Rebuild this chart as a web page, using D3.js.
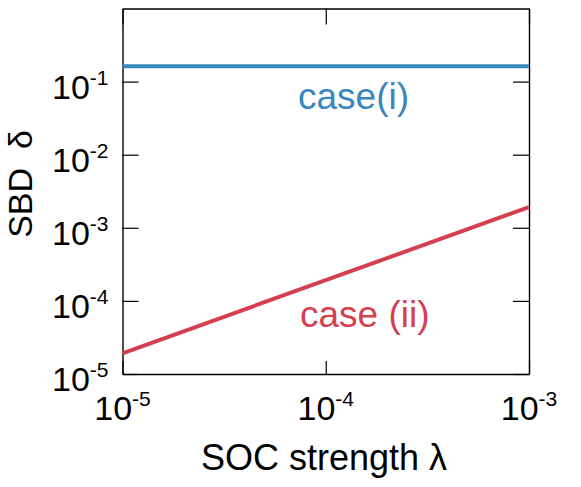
<!DOCTYPE html>
<html>
<head>
<meta charset="utf-8">
<script src="https://cdn.jsdelivr.net/npm/d3@7"></script>
<style>
  body { margin: 0; background: #fff; }
  text { font-family: "Liberation Sans", Arial, sans-serif; }
</style>
</head>
<body>
<div id="chart"></div>
<script>
// data
let lambdaVals = [1e-5, 1e-4, 1e-3];
let caseI = [0.162, 0.162, 0.162];
let caseII = [1.92e-5, 1.92e-4, 1.92e-3];
let xTickExps = [-5, -4, -3];
let yTickExps = [-5, -4, -3, -2, -1];

let margin = {top: 8.5, right: 52, bottom: 113, left: 122.5},
  width = 581 - margin.left - margin.right,
  height = 487 - margin.top - margin.bottom;

let svg = d3.select("#chart").append("svg")
  .attr("width", 581)
  .attr("height", 487)
  .append("g")
  .attr("transform", "translate(" + margin.left + "," + margin.top + ")");

let x = d3.scaleLog()
  .domain([1e-5, 1e-3])
  .range([0, width]);

let y = d3.scaleLog()
  .domain([1e-5, 1e0])
  .range([height, 0]);

let xTicks = xTickExps.map(function (e) { return Math.pow(10, e); });
let yTicks = yTickExps.map(function (e) { return Math.pow(10, e); });

// inward ticks on all four sides
function frameAxis(axis, tx, ty) {
  svg.append("g")
    .attr("transform", "translate(" + tx + "," + ty + ")")
    .call(axis)
    .call(function (g) {
      g.selectAll("path").attr("stroke", "#000").attr("stroke-width", 1.4);
      g.selectAll("line").attr("stroke", "#000").attr("stroke-width", 1.2);
      g.selectAll("text").remove();
    });
}
frameAxis(d3.axisBottom(x).tickValues(xTicks).tickSize(-13).tickSizeOuter(0), 0, height);
frameAxis(d3.axisTop(x).tickValues(xTicks).tickSize(-16).tickSizeOuter(0), 0, 0);
frameAxis(d3.axisLeft(y).tickValues(yTicks).tickSize(-16).tickSizeOuter(0), 0, 0);
frameAxis(d3.axisRight(y).tickValues(yTicks).tickSize(-16).tickSizeOuter(0), width, 0);

// tick labels 10^n
svg.selectAll(".ylab")
  .data(yTickExps)
  .enter().append("text")
  .attr("class", "ylab")
  .attr("x", -14)
  .attr("y", function (d) { return y(Math.pow(10, d)) + 17; })
  .attr("text-anchor", "end")
  .style("font-size", "34px")
  .each(function (d) {
    let t = d3.select(this);
    t.append("tspan").text("10");
    t.append("tspan").attr("dy", -14).style("font-size", "21px").text(d);
  });

svg.selectAll(".xlab")
  .data(xTickExps)
  .enter().append("text")
  .attr("class", "xlab")
  .attr("x", function (d) { return x(Math.pow(10, d)); })
  .attr("y", height + 46)
  .attr("text-anchor", "middle")
  .style("font-size", "34px")
  .each(function (d) {
    let t = d3.select(this);
    t.append("tspan").text("10");
    t.append("tspan").attr("dy", -14).style("font-size", "21px").text(d);
  });

// axis titles
svg.append("text")
  .attr("x", 324 - margin.left)
  .attr("y", height + 96)
  .attr("text-anchor", "middle")
  .style("font-size", "36px")
  .text("SOC strength \u03bb");

svg.append("text")
  .attr("transform", "translate(" + (32 - margin.left) + "," + (184 - margin.top) + ") rotate(-90)")
  .attr("text-anchor", "middle")
  .style("font-size", "34px")
  .text("SBD\u00a0\u00a0\u03b4");

// curves
let line = d3.line()
  .x(function (d) { return x(d[0]); })
  .y(function (d) { return y(d[1]); });

svg.append("path")
  .datum(d3.zip(lambdaVals, caseI))
  .attr("d", line)
  .attr("fill", "none")
  .attr("stroke", "#3a86c0")
  .attr("stroke-width", 4);

svg.append("path")
  .datum(d3.zip(lambdaVals, caseII))
  .attr("d", line)
  .attr("fill", "none")
  .attr("stroke", "#d4404f")
  .attr("stroke-width", 4);

// curve labels
svg.append("text")
  .attr("x", 298 - margin.left)
  .attr("y", 109 - margin.top)
  .style("font-size", "37px")
  .attr("fill", "#3a86c0")
  .text("case(i)");

svg.append("text")
  .attr("x", 300 - margin.left)
  .attr("y", 327 - margin.top)
  .style("font-size", "37px")
  .attr("fill", "#d4404f")
  .text("case (ii)");
</script>
</body>
</html>
